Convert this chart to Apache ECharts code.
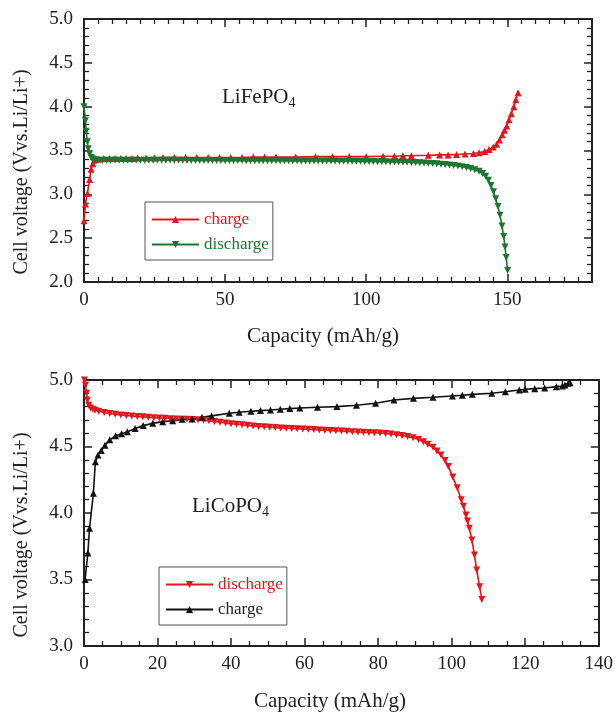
<!DOCTYPE html>
<html>
<head>
<meta charset="utf-8">
<script src="https://cdn.jsdelivr.net/npm/echarts@6/dist/echarts.min.js"></script>
<style>html,body{margin:0;padding:0;background:#fff}#c{width:616px;height:712px}</style>
</head>
<body>
<div id="c"></div>
<script>
// ---------- LiFePO4 (top) ----------
const feChargeCap = [0, 0.5, 1.2, 2.0, 2.5, 3.1, 3.6, 5, 7, 9, 11, 13, 15, 17, 19, 22, 25, 28, 32, 36, 40, 44, 48, 52, 56, 60, 64, 68, 75, 82, 88, 94, 100, 106, 110, 113, 116, 122, 126, 129, 132, 135, 138, 140, 142, 143.5, 145, 146.2, 147.2, 148.2, 149, 149.8, 150.6, 151.4, 152.3, 153, 153.8];
const feChargeV = [2.70, 2.89, 3.01, 3.17, 3.285, 3.35, 3.39, 3.40, 3.41, 3.41, 3.41, 3.41, 3.41, 3.41, 3.415, 3.415, 3.415, 3.42, 3.42, 3.42, 3.42, 3.42, 3.42, 3.42, 3.42, 3.425, 3.425, 3.425, 3.425, 3.43, 3.43, 3.43, 3.43, 3.435, 3.435, 3.44, 3.44, 3.445, 3.45, 3.45, 3.455, 3.46, 3.465, 3.475, 3.49, 3.51, 3.54, 3.57, 3.62, 3.68, 3.73, 3.78, 3.85, 3.92, 4.00, 4.08, 4.16];

const feDisCap = [0, 0.5, 0.8, 1.2, 1.5, 2, 2.5, 3, 4, 5, 6.5, 8, 9.5, 11, 12.5, 14, 15.5, 17, 18.5, 20, 21.5, 23, 24.5, 26, 27.5, 29, 30.5, 32, 33.5, 35, 36.5, 38, 39.5, 41, 42.5, 44, 45.5, 47, 48.5, 50, 51.5, 53, 54.5, 56, 57.5, 59, 60.5, 62, 63.5, 65, 66.5, 68, 69.5, 71, 72.5, 74, 75.5, 77, 78.5, 80, 81.5, 83, 84.5, 86, 87.5, 89, 90.5, 92, 93.5, 95, 96.5, 98, 99.5, 101, 102.5, 104, 105.5, 107, 108.5, 110, 111.5, 113, 114.5, 116, 117.5, 119, 120.5, 122, 123.5, 125, 126.5, 128, 129.5, 131, 132.5, 134, 135.5, 137, 138.5, 140, 141.2, 142.3, 143.3, 144.2, 145.1, 145.9, 146.7, 147.4, 148.1, 148.7, 149.2, 149.6, 150.1];
const feDisV = [4.00, 3.84, 3.72, 3.60, 3.52, 3.46, 3.42, 3.405, 3.395, 3.39, 3.39, 3.39, 3.39, 3.39, 3.39, 3.39, 3.39, 3.39, 3.39, 3.39, 3.39, 3.39, 3.388, 3.388, 3.388, 3.388, 3.388, 3.388, 3.388, 3.388, 3.386, 3.386, 3.386, 3.386, 3.386, 3.386, 3.386, 3.386, 3.385, 3.385, 3.385, 3.385, 3.385, 3.385, 3.384, 3.384, 3.384, 3.384, 3.384, 3.383, 3.383, 3.383, 3.383, 3.382, 3.382, 3.382, 3.382, 3.381, 3.381, 3.381, 3.38, 3.38, 3.38, 3.38, 3.379, 3.379, 3.378, 3.378, 3.377, 3.377, 3.376, 3.376, 3.375, 3.375, 3.374, 3.373, 3.372, 3.371, 3.37, 3.369, 3.368, 3.367, 3.366, 3.364, 3.362, 3.36, 3.358, 3.355, 3.352, 3.348, 3.344, 3.34, 3.335, 3.33, 3.324, 3.316, 3.306, 3.294, 3.28, 3.262, 3.238, 3.205, 3.16, 3.10, 3.03, 2.95, 2.86, 2.76, 2.64, 2.52, 2.40, 2.28, 2.13];

// ---------- LiCoPO4 (bottom) ----------
const coDisCap = [0.1, 0.4, 0.7, 0.9, 1.3, 1.8, 2.4, 3, 4, 5.5, 7, 8.5, 10, 11.5, 13, 14.5, 16, 17.5, 19, 20.5, 22, 23.5, 25, 26.5, 28, 29.5, 31, 32.5, 34, 35.5, 37, 38.5, 40, 41.5, 43, 44.5, 46, 47.5, 49, 50.5, 52, 53.5, 55, 56.5, 58, 59.5, 61, 62.5, 64, 65.5, 67, 68.5, 70, 71.5, 73, 74.5, 76, 77.5, 79, 80.5, 82, 83.5, 85, 86.5, 88, 89.5, 91, 92.3, 93.5, 94.9, 96, 97.1, 98.2, 99.1, 100.3, 101.5, 102.6, 103.2, 103.9, 104.3, 104.8, 105.5, 106.2, 106.8, 107.6, 108.2];
const coDisV = [5.00, 4.96, 4.90, 4.85, 4.81, 4.79, 4.78, 4.772, 4.765, 4.755, 4.748, 4.742, 4.737, 4.733, 4.729, 4.726, 4.723, 4.72, 4.717, 4.714, 4.712, 4.709, 4.707, 4.705, 4.704, 4.703, 4.702, 4.698, 4.693, 4.688, 4.683, 4.677, 4.671, 4.667, 4.663, 4.659, 4.655, 4.651, 4.648, 4.645, 4.642, 4.64, 4.638, 4.636, 4.634, 4.632, 4.63, 4.628, 4.625, 4.623, 4.621, 4.619, 4.617, 4.614, 4.611, 4.609, 4.607, 4.605, 4.603, 4.601, 4.598, 4.594, 4.589, 4.583, 4.576, 4.566, 4.553, 4.536, 4.517, 4.494, 4.466, 4.436, 4.395, 4.35, 4.27, 4.19, 4.10, 4.05, 3.985, 3.94, 3.885, 3.797, 3.684, 3.571, 3.446, 3.35];

const coChargeCap = [0.3, 1.05, 1.5, 2.55, 3.1, 3.8, 4.7, 5.7, 7.0, 8.6, 10.2, 11.8, 13.9, 16.1, 18.7, 21.4, 24.1, 26.7, 29.4, 32.1, 34.7, 39.5, 42.2, 45.4, 48, 50.7, 53.4, 56, 58.7, 63.5, 68.8, 74.1, 79.3, 84.3, 89.6, 94.9, 100.2, 102.9, 105.6, 110.9, 114.6, 118.4, 120, 122.6, 125.3, 128.5, 130.1, 130.8, 131.7, 132.2];
const coChargeV = [3.50, 3.70, 3.885, 4.148, 4.386, 4.436, 4.47, 4.51, 4.55, 4.58, 4.595, 4.61, 4.636, 4.657, 4.674, 4.687, 4.694, 4.704, 4.707, 4.72, 4.73, 4.75, 4.757, 4.765, 4.77, 4.774, 4.78, 4.785, 4.79, 4.795, 4.80, 4.81, 4.825, 4.85, 4.862, 4.87, 4.88, 4.885, 4.892, 4.90, 4.912, 4.925, 4.93, 4.935, 4.94, 4.95, 4.955, 4.962, 4.975, 4.98];

const legendLabels = {
  'fe-charge': 'charge', 'fe-discharge': 'discharge',
  'co-discharge': 'discharge', 'co-charge': 'charge'
};

const RED = '#e3151d', GREEN = '#1d7530', BLACK = '#111111';
const FONT = '"Liberation Serif", "Times New Roman", serif';
const AX = '#222';
const DOWN = 'path://M0,0L10,0L5,9Z';

function zip(a, b) { return a.map((x, i) => [x, b[i]]); }

function xAx(grid, min, max, interval, pos, label, showMax) {
  return {
    type: 'value', gridIndex: grid, min, max, interval, position: pos,
    axisLine: { show: true, onZero: false, lineStyle: { color: AX, width: 2 } },
    axisTick: { show: true, inside: true, length: 8, lineStyle: { color: AX, width: 1.5 } },
    minorTick: { show: true, splitNumber: interval === 50 ? 10 : 4, length: 5, lineStyle: { color: AX, width: 1.3 } },
    splitLine: { show: false }, minorSplitLine: { show: false },
    axisLabel: { show: label, showMaxLabel: showMax, color: '#222', fontFamily: FONT, fontSize: 19, margin: 9 }
  };
}
function yAx(grid, min, max, pos, label) {
  return {
    type: 'value', gridIndex: grid, min, max, interval: 0.5, position: pos,
    axisLine: { show: true, onZero: false, lineStyle: { color: AX, width: 2 } },
    axisTick: { show: true, inside: true, length: 8, lineStyle: { color: AX, width: 1.5 } },
    minorTick: { show: true, splitNumber: 5, length: 5, lineStyle: { color: AX, width: 1.3 } },
    splitLine: { show: false }, minorSplitLine: { show: false },
    axisLabel: { show: label, color: '#222', fontFamily: FONT, fontSize: 19, margin: 11,
      formatter: v => v.toFixed(1) }
  };
}

function line(name, xi, yi, data, color, symbol) {
  return {
    name, type: 'line', xAxisIndex: xi, yAxisIndex: yi, data,
    symbol, symbolSize: 7, showSymbol: true, animation: false,
    lineStyle: { color, width: 1.6 }, itemStyle: { color },
    z: 3
  };
}

const chart = echarts.init(document.getElementById('c'), null, { renderer: 'canvas' });

const cv = document.createElement('canvas').getContext('2d');
cv.font = '21px "Liberation Serif"';
const wFe = cv.measureText('LiFePO').width;
const wCo = cv.measureText('LiCoPO').width;

function txt(text, x, y, size, rot, align, color) {
  return {
    type: 'text', x, y, rotation: rot || 0, z: 10,
    style: { text, fill: color || '#222', font: size + 'px ' + FONT,
      textAlign: align || 'center', textVerticalAlign: 'middle' }
  };
}

const option = {
  backgroundColor: '#fff',
  animation: false,
  grid: [
    { left: 84, top: 19, width: 508, height: 263, containLabel: false },
    { left: 84, top: 380, width: 517, height: 266, containLabel: false }
  ],
  xAxis: [
    xAx(0, 0, 180, 50, 'bottom', true, false),
    xAx(0, 0, 180, 50, 'top', false, false),
    xAx(1, 0, 140, 20, 'bottom', true, true),
    xAx(1, 0, 140, 20, 'top', false, true)
  ],
  yAxis: [
    yAx(0, 2, 5, 'left', true),
    yAx(0, 2, 5, 'right', false),
    yAx(1, 3, 5, 'left', true),
    yAx(1, 3, 5, 'right', false)
  ],
  legend: [
    {
      orient: 'vertical', left: 145, top: 202, padding: [9, 4, 7, 6], itemGap: 8,
      itemWidth: 47, itemHeight: 9, borderColor: '#555', borderWidth: 1,
      selectedMode: false, formatter: n => legendLabels[n],
      textStyle: { fontFamily: FONT, fontSize: 17 },
      data: [{ name: 'fe-charge', textStyle: { color: RED } }, { name: 'fe-discharge', textStyle: { color: GREEN } }]
    },
    {
      orient: 'vertical', left: 159, top: 567, padding: [9, 4, 7, 6], itemGap: 8,
      itemWidth: 47, itemHeight: 9, borderColor: '#555', borderWidth: 1,
      selectedMode: false, formatter: n => legendLabels[n],
      textStyle: { fontFamily: FONT, fontSize: 17 },
      data: [{ name: 'co-discharge', textStyle: { color: RED } }, { name: 'co-charge', textStyle: { color: '#222' } }]
    }
  ],
  series: [
    line('fe-charge', 0, 0, zip(feChargeCap, feChargeV), RED, 'triangle'),
    line('fe-discharge', 0, 0, zip(feDisCap, feDisV), GREEN, DOWN),
    line('co-discharge', 2, 2, zip(coDisCap, coDisV), RED, DOWN),
    line('co-charge', 2, 2, zip(coChargeCap, coChargeV), BLACK, 'triangle')
  ],
  graphic: [
    txt('Cell voltage (Vvs.Li/Li+)', 22, 172, 20, Math.PI / 2),
    txt('Capacity (mAh/g)', 323, 336, 21, 0),
    txt('Cell voltage (Vvs.Li/Li+)', 22, 535, 20, Math.PI / 2),
    txt('Capacity (mAh/g)', 330, 701, 21, 0),
    txt('LiFePO', 222, 97, 21, 0, 'left'),
    txt('4', 222 + wFe, 103, 14, 0, 'left'),
    txt('LiCoPO', 192, 506, 21, 0, 'left'),
    txt('4', 192 + wCo, 512, 14, 0, 'left')
  ]
};
chart.setOption(option);
</script>
</body>
</html>
